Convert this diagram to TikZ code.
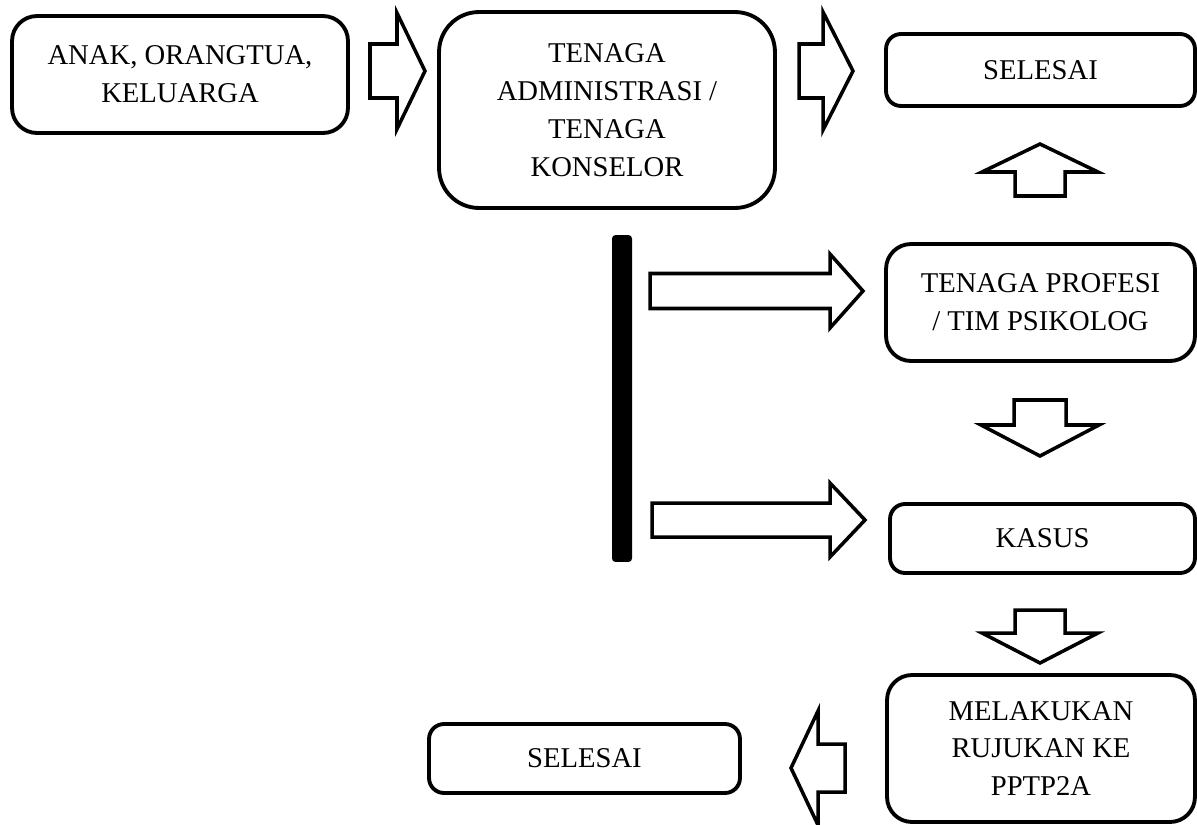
\documentclass[tikz,border=0pt]{standalone}
\usepackage{fontspec}
\setmainfont{Liberation Serif}
\tikzset{
  box/.style={draw, line width=2.2pt, rounded corners=#1, align=center, inner sep=0pt,
    font=\fontsize{16.3}{21.6}\selectfont},
  box/.default=0.5cm,
  pics/barrow/.style args={#1/#2/#3/#4}{code={
    \draw[line width=2pt, miter limit=20, fill=white] (0,-#2) -- (#1,-#2) -- (#1,-#4) -- (#1+#3,0)
      -- (#1,#4) -- (#1,#2) -- (0,#2) -- cycle;
  }}
}
\begin{document}
\begin{tikzpicture}[x=0.02cm, y=-0.02cm]
  \useasboundingbox (0,0) rectangle (1197,825);
  \clip (0,0) rectangle (1197,825);

  \node[box, minimum width=6.72cm, minimum height=2.34cm] (anak) at (180,74.5) {ANAK, ORANGTUA,\\KELUARGA};
  \node[box=0.8cm, minimum width=6.72cm, minimum height=3.92cm] (admin) at (607,110) {TENAGA\\ADMINISTRASI /\\TENAGA\\KONSELOR};
  \node[box=0.3cm, minimum width=6.18cm, minimum height=1.44cm] (selesaiA) at (1040.5,70) {SELESAI};
  \node[box, minimum width=6.18cm, minimum height=2.34cm] (profesi) at (1040.5,302.5) {TENAGA PROFESI\\/ TIM PSIKOLOG};
  \node[box=0.3cm, minimum width=6.1cm, minimum height=1.38cm] (kasus) at (1042.5,538.5) {KASUS};
  \node[box, minimum width=6.16cm, minimum height=2.94cm] (rujukan) at (1041,748.5) {MELAKUKAN\\RUJUKAN KE\\PPTP2A};
  \node[box=0.3cm, minimum width=6.22cm, minimum height=1.38cm] (selesaiB) at (584.5,758.5) {SELESAI};

  % batang vertikal
  \node[fill, rounded corners=2pt, minimum width=0.4cm, minimum height=6.54cm, inner sep=0pt] (bar) at (622,398.5) {};

  % panah blok: ekor / setengah lebar ekor / kepala / setengah lebar kepala
  \pic at (370,71) {barrow={27/27/28/58}};
  \pic at (799,71) {barrow={24/27/30/59}};
  \pic[rotate=90] at (1040,196) {barrow={24/25/28/58}};
  \pic at (650,291) {barrow={180/17.5/33/37}};
  \pic at (652,520) {barrow={178/17/35/37}};
  \pic[rotate=-90] at (1040,400) {barrow={25/26/31/59}};
  \pic[rotate=-90] at (1040,610) {barrow={23/25/30/58}};
  \pic[rotate=180] at (845,768) {barrow={27/24/27/57}};
\end{tikzpicture}
\end{document}
